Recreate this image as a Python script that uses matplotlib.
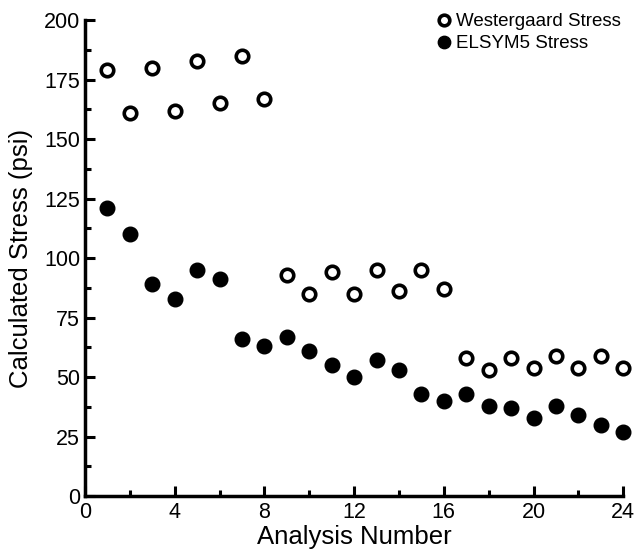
import numpy as np
import matplotlib.pyplot as plt

analysis = list(range(1, 25))
westergaard = [179, 161, 180, 162, 183, 165, 185, 167,
               93, 85, 94, 85, 95, 86, 95, 87,
               58, 53, 58, 54, 59, 54, 59, 54]
elsym5 = [121, 110, 89, 83, 95, 91, 66, 63,
          67, 61, 55, 50, 57, 53, 43, 40,
          43, 38, 37, 33, 38, 34, 30, 27]

plt.rcParams['font.family'] = ['Liberation Sans', 'DejaVu Sans']

fig = plt.figure(figsize=(6.34, 5.58), dpi=100)
ax = fig.add_axes([0.134, 0.111, 0.849, 0.853])

ax.plot(analysis, westergaard, 'o', ms=9, mfc='white', mec='black', mew=2.6,
        label='Westergaard Stress', clip_on=False)
ax.plot(analysis, elsym5, 'o', ms=10.5, color='black',
        label='ELSYM5 Stress', clip_on=False)

ax.set_xlim(0, 24)
ax.set_ylim(0, 200)
ax.set_xticks(range(0, 25, 4))
ax.set_xticks(range(2, 25, 4), minor=True)
ax.set_yticks(range(0, 201, 25))
ax.set_yticks(np.arange(12.5, 200, 25), minor=True)

for s in ['top', 'right']:
    ax.spines[s].set_visible(False)
for s in ['left', 'bottom']:
    ax.spines[s].set_linewidth(2.5)

ax.tick_params(which='major', direction='in', length=7, width=2.2, labelsize=15.5)
ax.tick_params(which='minor', direction='in', length=4, width=2.2)
ax.tick_params(axis='x', pad=4)

ax.set_xlabel('Analysis Number', fontsize=18.5, labelpad=2)
ax.set_ylabel('Calculated Stress (psi)', fontsize=18.5, labelpad=8)

ax.legend(loc='upper right', frameon=False, fontsize=13.5, handletextpad=0.05,
          markerscale=0.85, borderaxespad=0.0, labelspacing=0.25,
          handlelength=1.2, bbox_to_anchor=(1.01, 1.03))

fig.savefig('out.png', dpi=100)
